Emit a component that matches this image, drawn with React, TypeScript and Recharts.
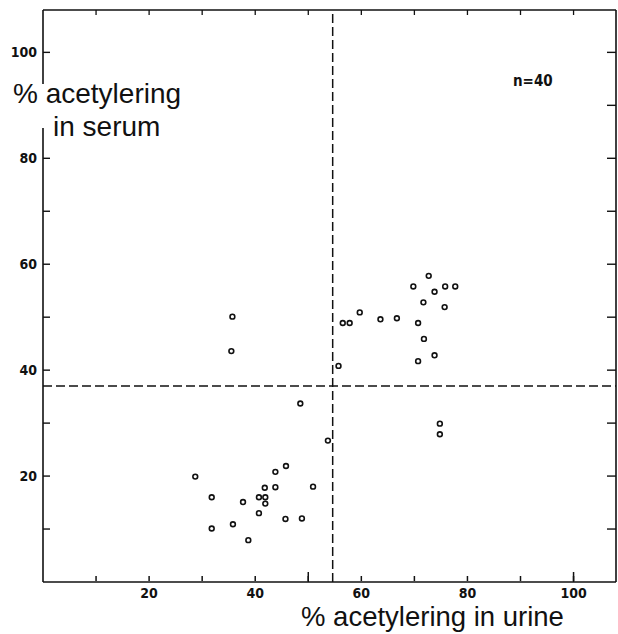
import React from "react";
import {
  ScatterChart,
  Scatter,
  XAxis,
  YAxis,
  ReferenceLine,
} from "recharts";

// % acetylering in urine (x) vs % acetylering in serum (y), n = 40
const urine = [
  48.5, 53.7, 28.7, 45.8, 43.8, 41.8, 43.8, 50.9, 31.8, 40.7,
  41.9, 37.7, 41.9, 40.7, 45.7, 48.8, 35.8, 31.8, 38.7, 35.7,
  35.5, 55.7, 56.5, 57.8, 59.7, 63.6, 66.7, 69.8, 72.7, 73.8,
  75.8, 77.7, 71.7, 75.7, 70.7, 71.8, 73.8, 70.7, 74.8, 74.8,
];
const serum = [
  33.7, 26.7, 19.9, 21.9, 20.8, 17.8, 17.9, 18.0, 16.0, 16.0,
  16.0, 15.1, 14.8, 13.0, 11.9, 12.0, 10.9, 10.1, 7.9, 50.1,
  43.6, 40.8, 48.9, 48.9, 50.9, 49.6, 49.8, 55.8, 57.8, 54.8,
  55.8, 55.8, 52.8, 51.9, 48.9, 45.9, 42.8, 41.7, 29.9, 27.9,
];
const minorTicks = [10, 20, 30, 40, 50, 60, 70, 80, 90, 100];
const majorTicks = [50, 100];
const labelTicks = [20, 40, 60, 80, 100];
const urineCutoff = 54.6;
const serumCutoff = 37.0;
const domain: [number, number] = [0, 108];

const points = urine.map((u, i) => ({ urine: u, serum: serum[i] }));

const INK = "#111";
const narrowBold = "'Liberation Sans Narrow', 'DejaVu Sans Condensed', sans-serif";
const tickFont = {
  fontSize: 14,
  fontFamily: narrowBold,
  fontWeight: 700,
  fill: INK,
};
const titleFont = "'Liberation Sans', Arial, sans-serif";
const noLabel = () => "";

function OpenDot(props: any) {
  const { cx, cy } = props;
  if (cx == null || cy == null) return <g />;
  return <circle cx={cx} cy={cy} r={2.4} fill="#fff" stroke={INK} strokeWidth={1.6} />;
}

export default function App() {
  return (
    <div style={{ position: "absolute", left: 0, top: 0, width: 618, height: 634, background: "#fff" }}>
      <ScatterChart width={618} height={634} margin={{ top: 10, right: 2, bottom: 0, left: 0 }}>
        {/* labelled axes */}
        <XAxis
          xAxisId="b"
          dataKey="urine"
          type="number"
          domain={domain}
          ticks={labelTicks}
          interval={0}
          height={52}
          tickSize={4}
          tickMargin={2}
          tick={tickFont}
          tickLine={false}
          axisLine={{ stroke: INK, strokeWidth: 1.6 }}
        />
        <YAxis
          yAxisId="l"
          dataKey="serum"
          type="number"
          domain={domain}
          ticks={labelTicks}
          interval={0}
          width={43}
          tickSize={6}
          tickMargin={0}
          tick={tickFont}
          tickLine={false}
          axisLine={{ stroke: INK, strokeWidth: 1.6 }}
        />
        {/* inward tick marks and frame */}
        <XAxis
          xAxisId="bm"
          dataKey="urine"
          type="number"
          mirror
          domain={domain}
          ticks={minorTicks}
          interval={0}
          tickFormatter={noLabel}
          height={1}
          tickSize={5}
          tickLine={{ stroke: INK, strokeWidth: 1.5 }}
          axisLine={false}
        />
        <XAxis
          xAxisId="bM"
          dataKey="urine"
          type="number"
          mirror
          domain={domain}
          ticks={majorTicks}
          interval={0}
          tickFormatter={noLabel}
          height={1}
          tickSize={10}
          tickLine={{ stroke: INK, strokeWidth: 1.5 }}
          axisLine={false}
        />
        <XAxis
          xAxisId="t"
          orientation="top"
          dataKey="urine"
          type="number"
          mirror
          domain={domain}
          ticks={minorTicks}
          interval={0}
          tickFormatter={noLabel}
          height={1}
          tickSize={5}
          tickLine={{ stroke: INK, strokeWidth: 1.3 }}
          axisLine={{ stroke: INK, strokeWidth: 1.4 }}
        />
        <YAxis
          yAxisId="lm"
          dataKey="serum"
          type="number"
          mirror
          domain={domain}
          ticks={minorTicks}
          interval={0}
          tickFormatter={noLabel}
          width={1}
          tickSize={7}
          tickLine={{ stroke: INK, strokeWidth: 1.4 }}
          axisLine={false}
        />
        <YAxis
          yAxisId="r"
          orientation="right"
          dataKey="serum"
          type="number"
          mirror
          domain={domain}
          ticks={minorTicks}
          interval={0}
          tickFormatter={noLabel}
          width={1}
          tickSize={9}
          tickLine={{ stroke: INK, strokeWidth: 1.4 }}
          axisLine={{ stroke: INK, strokeWidth: 1.6 }}
        />
        <ReferenceLine
          xAxisId="b"
          yAxisId="l"
          x={urineCutoff}
          stroke={INK}
          strokeWidth={1.5}
          strokeDasharray="9 4"
        />
        <ReferenceLine
          xAxisId="b"
          yAxisId="l"
          y={serumCutoff}
          stroke={INK}
          strokeWidth={1.5}
          strokeDasharray="9 4"
        />
        {/* invisible copies so the tick/frame axes share the data */}
        <Scatter xAxisId="t" yAxisId="r" data={points} shape={() => <g />} isAnimationActive={false} />
        <Scatter xAxisId="bm" yAxisId="lm" data={points} shape={() => <g />} isAnimationActive={false} />
        <Scatter xAxisId="bM" yAxisId="lm" data={points} shape={() => <g />} isAnimationActive={false} />
        <Scatter
          xAxisId="b"
          yAxisId="l"
          data={points}
          shape={OpenDot}
          isAnimationActive={false}
        />
      </ScatterChart>
      <svg
        width={618}
        height={634}
        style={{ position: "absolute", left: 0, top: 0, pointerEvents: "none" }}
      >
        <rect x={36} y={84} width={14} height={44} fill="#fff" />
        <text x={13} y={103} fontFamily={titleFont} fontSize={28} fill={INK}>
          % acetylering
        </text>
        <text x={53} y={136} fontFamily={titleFont} fontSize={28} fill={INK}>
          in serum
        </text>
        <text x={301} y={626} fontFamily={titleFont} fontSize={27.5} fill={INK}>
          % acetylering in urine
        </text>
        <text
          x={513}
          y={86}
          fontFamily={narrowBold}
          fontWeight={700}
          fontSize={15}
          fill={INK}
        >
          n=40
        </text>
      </svg>
    </div>
  );
}
